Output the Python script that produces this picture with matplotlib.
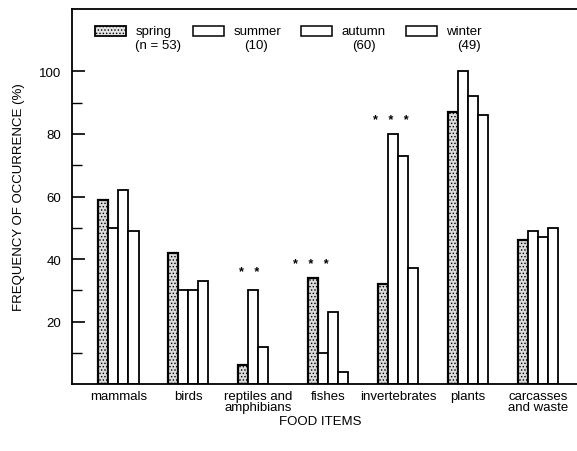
import numpy as np
import matplotlib.pyplot as plt
from matplotlib.patches import Rectangle

plt.rcParams['font.family'] = ['Liberation Sans', 'DejaVu Sans']
plt.rcParams['hatch.linewidth'] = 0.6

# food categories and seasonal frequencies (%)
categories = ['mammals', 'birds', 'reptiles and\namphibians', 'fishes',
              'invertebrates', 'plants', 'carcasses\nand waste']
seasons = ['spring', 'summer', 'autumn', 'winter']
sample_sizes = ['(n = 53)', '(10)', '(60)', '(49)']
spring = [59, 42, 6, 34, 32, 87, 46]
summer = [50, 30, 30, 10, 80, 100, 49]
autumn = [62, 30, 12, 23, 73, 92, 47]
winter = [49, 33, 0, 4, 37, 86, 50]
# significance markers: (category position, label, height)
stars = [(1.87, '*   *', 36), (2.76, '*   *   *', 38.5), (3.9, '*   *   *', 84.5)]

fig = plt.figure(figsize=(5.77, 4.52), dpi=100)
ax = fig.add_axes([0.125, 0.148, 0.875, 0.830])

x = np.arange(len(categories))
w = 0.145
series = [spring, summer, autumn, winter]
for i, vals in enumerate(series):
    pos = x + (i - 1.5) * w
    if i == 0:
        ax.bar(pos, vals, w, color='#dcdcdc', edgecolor='black', linewidth=1.6,
               hatch='.....')
    else:
        keep = [j for j, v in enumerate(vals) if v > 0]
        ax.bar(pos[keep], [vals[j] for j in keep], w, color='white',
               edgecolor='black', linewidth=1.3)

for xs, s, ys in stars:
    ax.text(xs, ys, s, ha='center', va='center', fontsize=9, fontweight='bold')

ax.set_xlim(-0.66, 6.56)
ax.set_ylim(0, 120)
ax.set_yticks([20, 40, 60, 80, 100])
ax.set_yticks([10, 30, 50, 70, 90], minor=True)
ax.tick_params(axis='y', direction='in', length=9, width=1.2, labelsize=9.5, pad=8)
ax.tick_params(axis='y', which='minor', direction='in', length=7, width=1.0)
ax.set_xticks(x)
ax.set_xticklabels(categories, fontsize=9.5, linespacing=0.95)
ax.tick_params(axis='x', length=0, pad=4)
ax.spines['right'].set_visible(False)
for s in ['left', 'top', 'bottom']:
    ax.spines[s].set_linewidth(1.3)

ax.set_ylabel('FREQUENCY OF OCCURRENCE (%)', fontsize=9.5, labelpad=10)
fig.text(0.555, 0.066, 'FOOD ITEMS', ha='center', va='center', fontsize=9.5)

# legend drawn by hand in axes fraction
leg_x = [0.045, 0.239, 0.453, 0.661]
for lx, season, n, i in zip(leg_x, seasons, sample_sizes, range(4)):
    if i == 0:
        r = Rectangle((lx, 0.927), 0.062, 0.027, transform=ax.transAxes,
                      facecolor='#e4e4e4', edgecolor='black', linewidth=1.3,
                      hatch='.....', clip_on=False)
    else:
        r = Rectangle((lx, 0.927), 0.062, 0.027, transform=ax.transAxes,
                      facecolor='white', edgecolor='black', linewidth=1.1,
                      clip_on=False)
    ax.add_patch(r)
    ax.text(lx + 0.08, 0.941, season, transform=ax.transAxes, ha='left',
            va='center', fontsize=9.5)
    ax.text(lx + 0.08 + 0.045, 0.905, n, transform=ax.transAxes, ha='center',
            va='center', fontsize=9.5)

fig.savefig('out.png', dpi=100)
